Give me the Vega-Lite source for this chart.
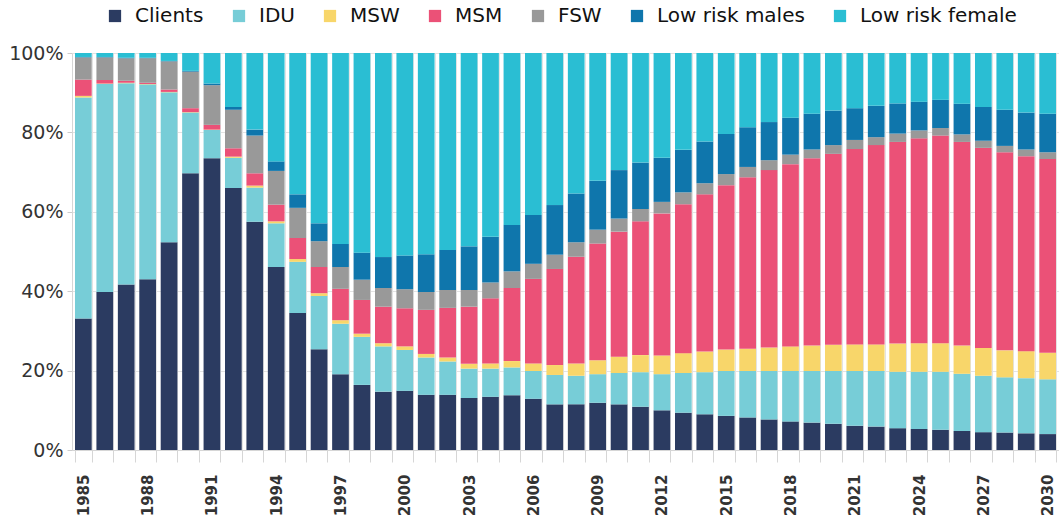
{
  "$schema": "https://vega.github.io/schema/vega-lite/v6.json",
  "width": 987,
  "height": 397,
  "autosize": {"type": "none"},
  "padding": {"left": 72, "top": 53, "right": 0, "bottom": 69},
  "background": "white",
  "datasets": {
    "groups": [
      {"group":"Clients","rank":1},
      {"group":"IDU","rank":2},
      {"group":"MSW","rank":3},
      {"group":"MSM","rank":4},
      {"group":"FSW","rank":5},
      {"group":"Low risk males","rank":6},
      {"group":"Low risk female","rank":7}
    ]
  },
  "data": {
    "values": [
      {"year":1985,"Clients":33.1,"IDU":55.7,"MSW":0.4,"MSM":4.1,"FSW":5.6,"Low risk males":0.1,"Low risk female":1.0},
      {"year":1986,"Clients":39.8,"IDU":52.4,"MSW":0.1,"MSM":0.9,"FSW":5.7,"Low risk males":0.1,"Low risk female":1.0},
      {"year":1987,"Clients":41.7,"IDU":50.7,"MSW":0.1,"MSM":0.5,"FSW":5.7,"Low risk males":0.1,"Low risk female":1.2},
      {"year":1988,"Clients":43.0,"IDU":49.1,"MSW":0.1,"MSM":0.3,"FSW":6.2,"Low risk males":0.1,"Low risk female":1.2},
      {"year":1989,"Clients":52.3,"IDU":37.8,"MSW":0.1,"MSM":0.6,"FSW":7.1,"Low risk males":0.1,"Low risk female":2.0},
      {"year":1990,"Clients":69.7,"IDU":15.3,"MSW":0.1,"MSM":1.0,"FSW":9.2,"Low risk males":0.2,"Low risk female":4.5},
      {"year":1991,"Clients":73.5,"IDU":7.1,"MSW":0.1,"MSM":1.2,"FSW":10.0,"Low risk males":0.4,"Low risk female":7.7},
      {"year":1992,"Clients":66.0,"IDU":7.6,"MSW":0.3,"MSM":2.1,"FSW":9.7,"Low risk males":0.7,"Low risk female":13.6},
      {"year":1993,"Clients":57.5,"IDU":8.6,"MSW":0.5,"MSM":3.1,"FSW":9.5,"Low risk males":1.5,"Low risk female":19.3},
      {"year":1994,"Clients":46.1,"IDU":11.0,"MSW":0.5,"MSM":4.2,"FSW":8.5,"Low risk males":2.4,"Low risk female":27.3},
      {"year":1995,"Clients":34.5,"IDU":12.9,"MSW":0.7,"MSM":5.3,"FSW":7.6,"Low risk males":3.4,"Low risk female":35.6},
      {"year":1996,"Clients":25.4,"IDU":13.4,"MSW":0.7,"MSM":6.6,"FSW":6.5,"Low risk males":4.5,"Low risk female":42.9},
      {"year":1997,"Clients":19.1,"IDU":12.7,"MSW":0.9,"MSM":7.9,"FSW":5.5,"Low risk males":5.8,"Low risk female":48.1},
      {"year":1998,"Clients":16.4,"IDU":12.1,"MSW":0.8,"MSM":8.5,"FSW":5.1,"Low risk males":6.8,"Low risk female":50.3},
      {"year":1999,"Clients":14.7,"IDU":11.4,"MSW":0.8,"MSM":9.2,"FSW":4.7,"Low risk males":7.8,"Low risk female":51.4},
      {"year":2000,"Clients":14.9,"IDU":10.3,"MSW":0.9,"MSM":9.6,"FSW":4.8,"Low risk males":8.5,"Low risk female":51.0},
      {"year":2001,"Clients":13.9,"IDU":9.4,"MSW":0.9,"MSM":11.1,"FSW":4.5,"Low risk males":9.5,"Low risk female":50.7},
      {"year":2002,"Clients":13.9,"IDU":8.4,"MSW":1.0,"MSM":12.5,"FSW":4.5,"Low risk males":10.1,"Low risk female":49.6},
      {"year":2003,"Clients":13.1,"IDU":7.4,"MSW":1.2,"MSM":14.4,"FSW":4.2,"Low risk males":11.0,"Low risk female":48.7},
      {"year":2004,"Clients":13.4,"IDU":7.1,"MSW":1.3,"MSM":16.4,"FSW":4.0,"Low risk males":11.5,"Low risk female":46.3},
      {"year":2005,"Clients":13.8,"IDU":7.0,"MSW":1.6,"MSM":18.4,"FSW":4.2,"Low risk males":11.7,"Low risk female":43.3},
      {"year":2006,"Clients":12.9,"IDU":7.0,"MSW":1.9,"MSM":21.3,"FSW":3.8,"Low risk males":12.3,"Low risk female":40.8},
      {"year":2007,"Clients":11.5,"IDU":7.4,"MSW":2.5,"MSM":24.2,"FSW":3.6,"Low risk males":12.5,"Low risk female":38.3},
      {"year":2008,"Clients":11.5,"IDU":7.2,"MSW":3.1,"MSM":26.9,"FSW":3.6,"Low risk males":12.3,"Low risk female":35.4},
      {"year":2009,"Clients":11.9,"IDU":7.2,"MSW":3.5,"MSM":29.4,"FSW":3.5,"Low risk males":12.3,"Low risk female":32.2},
      {"year":2010,"Clients":11.5,"IDU":7.9,"MSW":4.1,"MSM":31.5,"FSW":3.3,"Low risk males":12.2,"Low risk female":29.5},
      {"year":2011,"Clients":10.9,"IDU":8.7,"MSW":4.3,"MSM":33.7,"FSW":3.1,"Low risk males":11.7,"Low risk female":27.6},
      {"year":2012,"Clients":10.0,"IDU":9.1,"MSW":4.7,"MSM":35.8,"FSW":2.9,"Low risk males":11.1,"Low risk female":26.4},
      {"year":2013,"Clients":9.4,"IDU":10.0,"MSW":5.0,"MSM":37.5,"FSW":3.0,"Low risk males":10.7,"Low risk female":24.4},
      {"year":2014,"Clients":9.0,"IDU":10.6,"MSW":5.2,"MSM":39.6,"FSW":2.8,"Low risk males":10.5,"Low risk female":22.3},
      {"year":2015,"Clients":8.6,"IDU":11.3,"MSW":5.4,"MSM":41.4,"FSW":2.8,"Low risk males":10.1,"Low risk female":20.4},
      {"year":2016,"Clients":8.2,"IDU":11.7,"MSW":5.6,"MSM":43.2,"FSW":2.6,"Low risk males":10.0,"Low risk female":18.7},
      {"year":2017,"Clients":7.7,"IDU":12.2,"MSW":5.9,"MSM":44.7,"FSW":2.5,"Low risk males":9.6,"Low risk female":17.4},
      {"year":2018,"Clients":7.2,"IDU":12.7,"MSW":6.2,"MSM":45.9,"FSW":2.4,"Low risk males":9.3,"Low risk female":16.3},
      {"year":2019,"Clients":6.9,"IDU":13.0,"MSW":6.4,"MSM":47.2,"FSW":2.2,"Low risk males":9.0,"Low risk female":15.3},
      {"year":2020,"Clients":6.6,"IDU":13.3,"MSW":6.6,"MSM":48.1,"FSW":2.2,"Low risk males":8.7,"Low risk female":14.5},
      {"year":2021,"Clients":6.1,"IDU":13.8,"MSW":6.7,"MSM":49.2,"FSW":2.3,"Low risk males":8.0,"Low risk female":13.9},
      {"year":2022,"Clients":5.9,"IDU":14.0,"MSW":6.7,"MSM":50.2,"FSW":2.0,"Low risk males":7.9,"Low risk female":13.3},
      {"year":2023,"Clients":5.5,"IDU":14.2,"MSW":7.1,"MSM":50.8,"FSW":2.1,"Low risk males":7.6,"Low risk female":12.7},
      {"year":2024,"Clients":5.3,"IDU":14.4,"MSW":7.2,"MSM":51.6,"FSW":2.0,"Low risk males":7.2,"Low risk female":12.3},
      {"year":2025,"Clients":5.1,"IDU":14.6,"MSW":7.2,"MSM":52.3,"FSW":1.9,"Low risk males":7.1,"Low risk female":11.8},
      {"year":2026,"Clients":4.8,"IDU":14.4,"MSW":7.1,"MSM":51.3,"FSW":1.9,"Low risk males":7.7,"Low risk female":12.8},
      {"year":2027,"Clients":4.5,"IDU":14.2,"MSW":7.0,"MSM":50.4,"FSW":1.8,"Low risk males":8.5,"Low risk female":13.6},
      {"year":2028,"Clients":4.4,"IDU":13.9,"MSW":6.8,"MSM":49.9,"FSW":1.6,"Low risk males":9.1,"Low risk female":14.3},
      {"year":2029,"Clients":4.2,"IDU":13.9,"MSW":6.8,"MSM":49.1,"FSW":1.7,"Low risk males":9.3,"Low risk female":15.0},
      {"year":2030,"Clients":4.0,"IDU":13.8,"MSW":6.7,"MSM":48.8,"FSW":1.7,"Low risk males":9.7,"Low risk female":15.3}
    ]
  },
  "transform": [
    {"fold": ["Clients","IDU","MSW","MSM","FSW","Low risk males","Low risk female"], "as": ["group","share"]},
    {"lookup": "group", "from": {"data": {"name": "groups"}, "key": "group", "fields": ["rank"]}}
  ],
  "mark": {"type": "bar"},
  "encoding": {
    "x": {
      "field": "year", "type": "ordinal",
      "scale": {"paddingInner": 0.22, "paddingOuter": 0.14},
      "axis": {
        "title": null,
        "labelAngle": -90,
        "labelExpr": "(datum.value - 1985) % 3 == 0 ? datum.label : ''",
        "labelFont": "DejaVu Sans",
        "labelFontWeight": "bold",
        "labelFontSize": 15,
        "labelColor": "#333333",
        "labelPadding": 12,
        "tickBand": "extent",
        "tickSize": 12,
        "tickColor": "#d6d6d6",
        "grid": true,
        "gridColor": "#e3e3e3",
        "domainColor": "#d6d6d6"
      }
    },
    "y": {
      "field": "share", "type": "quantitative",
      "stack": "normalize",
      "scale": {"domain": [0, 1]},
      "axis": {
        "title": null,
        "format": ".0%",
        "values": [0, 0.2, 0.4, 0.6, 0.8, 1],
        "labelFont": "DejaVu Sans",
        "labelFontSize": 19,
        "labelColor": "#333333",
        "labelPadding": 4,
        "tickSize": 5,
        "tickColor": "#cccccc",
        "gridColor": "#e3e3e3",
        "domainColor": "#d6d6d6"
      }
    },
    "color": {
      "field": "group", "type": "nominal",
      "sort": ["Clients","IDU","MSW","MSM","FSW","Low risk males","Low risk female"],
      "scale": {
        "domain": ["Clients","IDU","MSW","MSM","FSW","Low risk males","Low risk female"],
        "range": ["#2b3b61","#77cdd7","#f8d66a","#eb5177","#999999","#0f76ac","#2abed3"]
      },
      "legend": {
        "title": null,
        "orient": "none",
        "legendX": 33,
        "legendY": -47,
        "direction": "horizontal",
        "symbolType": "square",
        "symbolSize": 150,
        "symbolStrokeWidth": 0,
        "labelFont": "DejaVu Sans",
        "labelFontSize": 20,
        "labelColor": "#111111",
        "labelOffset": 10,
        "columnPadding": 25
      }
    },
    "order": {"field": "rank", "type": "quantitative", "sort": "ascending"}
  },
  "config": {"view": {"stroke": null}}
}
